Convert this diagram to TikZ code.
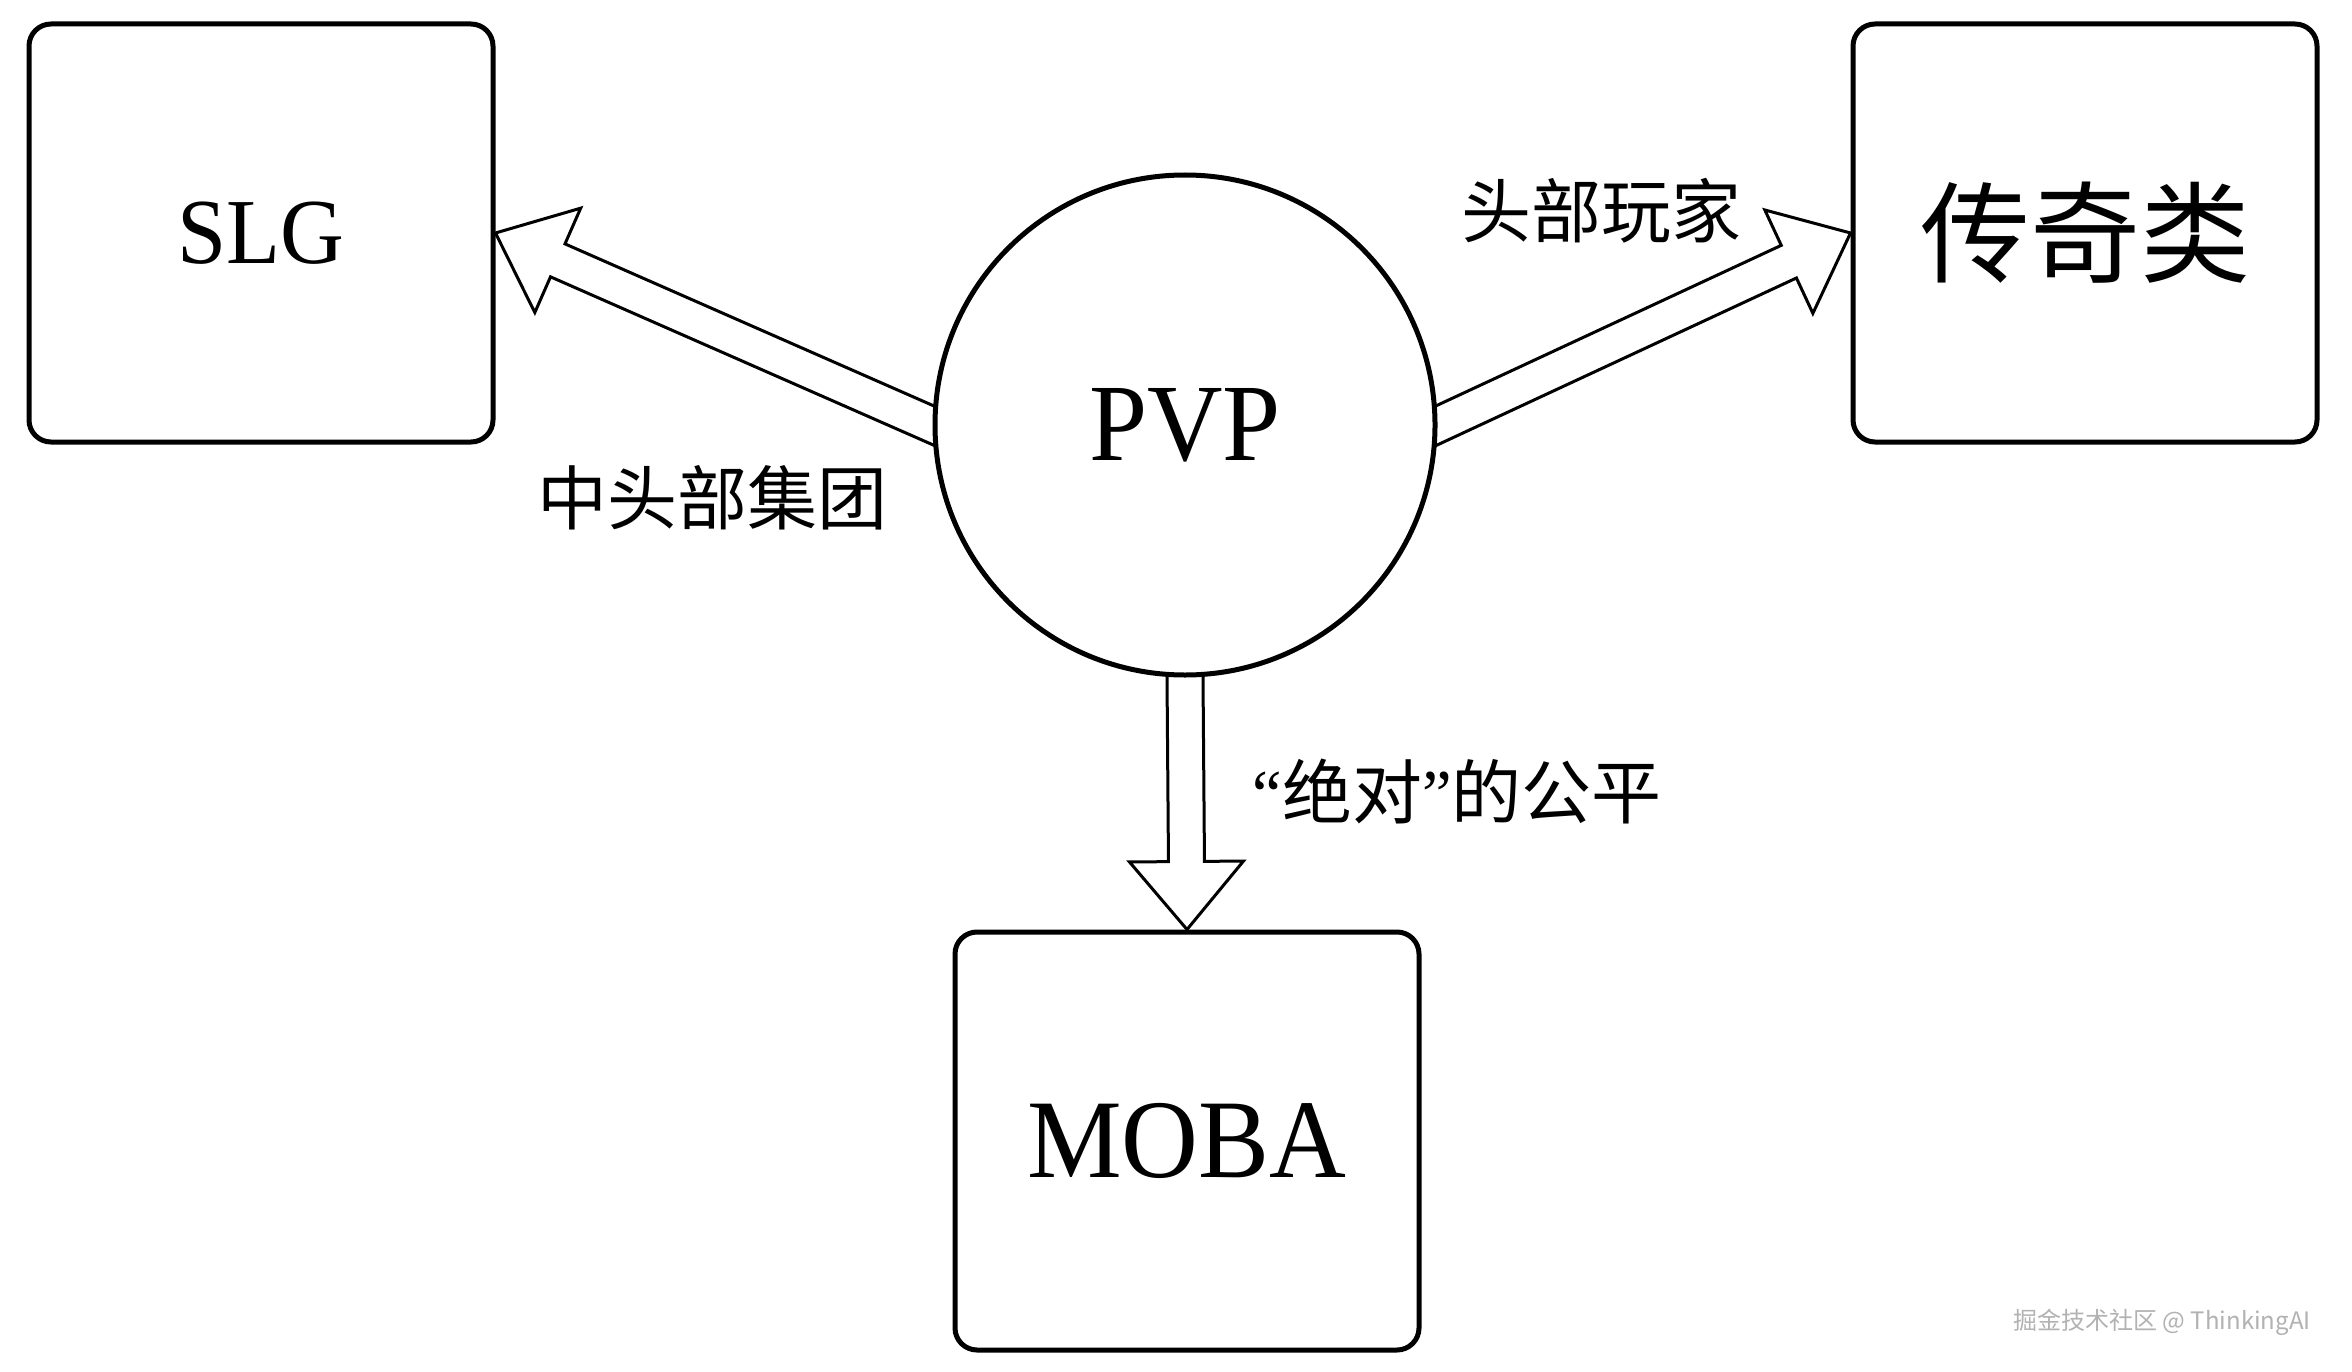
\documentclass[tikz,border=0pt]{standalone}
\usepackage{fontspec}
\setmainfont{Liberation Serif}
\newfontfamily\tms[FakeStretch=0.95]{Liberation Serif}
\newfontfamily\cjk{Noto Sans CJK SC}
\usetikzlibrary{calc}
\pgfdeclarelayer{bg}
\pgfsetlayers{bg,main}
\newcommand\blockarr[2]{%
  \coordinate (T) at (#2);
  \coordinate (S0) at (#1);
  \coordinate (S) at ($(S0)!-12pt!(T)$);
  \coordinate (B) at ($(T)!68pt!(S)$);
  \draw[blockarrow] ($(S)!18pt!90:(T)$) -- ($(B)!18pt!90:(T)$) -- ($(B)!57pt!90:(T)$) -- (T)
    -- ($(B)!57pt!-90:(T)$) -- ($(B)!18pt!-90:(T)$) -- ($(S)!18pt!-90:(T)$) -- cycle;
}
\begin{document}
\begin{tikzpicture}[x=1pt,y=-1pt,
  box/.style={draw, line width=5pt, rounded corners=22pt, fill=white,
    minimum width=464pt, minimum height=418pt, inner sep=0pt},
  hub/.style={draw, circle, line width=5pt, fill=white, minimum size=500pt, inner sep=0pt},
  blockarrow/.style={draw, line width=3pt, fill=white, line join=miter},
  lbl/.style={font=\cjk\fontsize{70}{80}\selectfont, inner sep=0pt},
]
\useasboundingbox (0,0) rectangle (2352,1372);
\begin{pgfonlayer}{bg}
  \fill[white] (0,0) rectangle (2352,1372);
\end{pgfonlayer}

\node[box, font=\tms\fontsize{93}{100}\selectfont] (slg) at (261,233) {SLG};
\node[box, font=\cjk\fontsize{110}{120}\selectfont] (legend) at (2085,233) {传奇类};
\node[box, font=\tms\fontsize{112}{120}\selectfont] (moba) at (1187,1141) {MOBA};
\node[hub, font=\tms\fontsize{110}{120}\selectfont] (pvp) at (1185,425) {PVP};

\begin{pgfonlayer}{bg}
  \blockarr{pvp.west}{slg.east}
  \blockarr{pvp.east}{legend.west}
  \blockarr{pvp.south}{moba.north}
\end{pgfonlayer}

\node[lbl] (l1) at (712,498) {中头部集团};
\node[lbl] (l2) at (1601,211) {头部玩家};
\node[lbl] (l3) at (1457,791) {{\tms “}绝对{\tms ”}的公平};

\node[font=\cjk\fontsize{24}{28}\selectfont, text=gray!60, inner sep=0pt] (wm) at (2162,1322) {掘金技术社区 @ ThinkingAI};
\end{tikzpicture}
\end{document}
